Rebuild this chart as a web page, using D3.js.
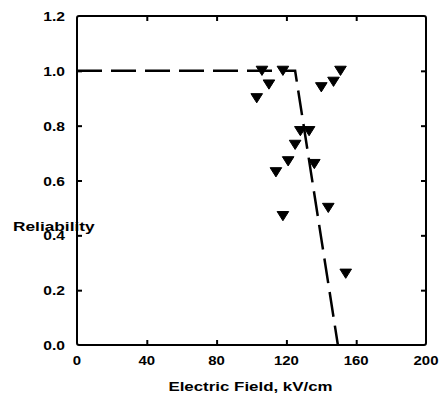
<!DOCTYPE html>
<html>
<head>
<meta charset="utf-8">
<script src="https://cdn.jsdelivr.net/npm/d3@7"></script>
<style>
  html, body { margin: 0; padding: 0; background: #fff; }
  text { font-family: "Liberation Sans", Arial, sans-serif; font-weight: bold; fill: #000; }
</style>
</head>
<body>
<div id="chart"></div>
<script>
// measured points
const fieldKV     = [103, 106, 110, 118, 118, 114, 121, 125, 128, 133, 136, 140, 144, 147, 151, 154];
const reliability = [0.90, 1.0, 0.95, 1.0, 0.47, 0.63, 0.67, 0.73, 0.78, 0.78, 0.66, 0.94, 0.50, 0.96, 1.0, 0.26];

// dashed fit line
const fitField = [0, 125, 149.5];
const fitRel   = [1.0, 1.0, 0.0];

const xTicks = [0, 40, 80, 120, 160, 200];
const yTicks = [0, 0.2, 0.4, 0.6, 0.8, 1.0, 1.2];

const W = 439, H = 397;
const margin = { left: 77, top: 16, right: 13, bottom: 52 };
const iw = W - margin.left - margin.right;
const ih = H - margin.top - margin.bottom;
const sx = 1.15; // labels look horizontally stretched

const svg = d3.select("#chart").append("svg")
    .attr("width", W)
    .attr("height", H);

const g = svg.append("g")
    .attr("transform", `translate(${margin.left},${margin.top})`);

const x = d3.scaleLinear().domain([0, 200]).range([0, iw]);
const y = d3.scaleLinear().domain([0, 1.2]).range([ih, 0]);

const inner = [40, 80, 120, 160];
const innerY = [0.2, 0.4, 0.6, 0.8, 1.0];

function styleAxis(sel){
    sel.select(".domain").remove();
    sel.selectAll("line").attr("stroke", "#000").attr("stroke-width", 2);
}

g.append("g").attr("transform", `translate(0,${ih})`)
    .call(d3.axisBottom(x).tickValues(inner).tickSize(-5).tickFormat(""))
    .call(styleAxis);
g.append("g")
    .call(d3.axisTop(x).tickValues(inner).tickSize(-5).tickFormat(""))
    .call(styleAxis);
g.append("g")
    .call(d3.axisLeft(y).tickValues(innerY).tickSize(-5).tickFormat(""))
    .call(styleAxis);
g.append("g").attr("transform", `translate(${iw},0)`)
    .call(d3.axisRight(y).tickValues(innerY).tickSize(-5).tickFormat(""))
    .call(styleAxis);

// frame
g.append("rect")
    .attr("x", 0).attr("y", 0)
    .attr("width", iw).attr("height", ih)
    .attr("rx", 2)
    .attr("fill", "none")
    .attr("stroke", "#000")
    .attr("stroke-width", 2);

// tick labels
g.selectAll(".xl").data(xTicks).enter().append("text")
    .attr("transform", d => `translate(${x(d)},${ih + 20}) scale(${sx},1)`)
    .attr("text-anchor", "middle")
    .style("font-size", "13px")
    .text(d => d);

g.selectAll(".yl").data(yTicks).enter().append("text")
    .attr("transform", d => `translate(-12,${y(d) + 5}) scale(1.2,1)`)
    .attr("text-anchor", "end")
    .style("font-size", "13px")
    .text(d => d.toFixed(1));

// axis titles
svg.append("text")
    .attr("transform", `translate(${margin.left + iw / 2 - 1},${H - 6}) scale(1.3,1)`)
    .attr("text-anchor", "middle")
    .style("font-size", "13px")
    .text("Electric Field, kV/cm");

svg.append("text")
    .attr("transform", `translate(13,${margin.top + y(0.43) + 4}) scale(1.33,1)`)
    .attr("text-anchor", "start")
    .style("font-size", "13px")
    .text("Reliability");

// fit line
const fit = fitField.map((f, i) => ({ f: f, r: fitRel[i] }));
g.append("path")
    .datum(fit)
    .attr("fill", "none")
    .attr("stroke", "#000")
    .attr("stroke-width", 2.5)
    .attr("stroke-dasharray", "25,9")
    .attr("d", d3.line().x(d => x(d.f)).y(d => y(d.r)));

// down triangles
const downTri = {
    draw(ctx, size){
        const w = 5.8, h = 4.6;
        ctx.moveTo(-w, -h);
        ctx.lineTo(w, -h);
        ctx.lineTo(0, h);
        ctx.closePath();
    }
};

const pts = fieldKV.map((f, i) => ({ f: f, r: reliability[i] }));
g.selectAll(".pt").data(pts).enter().append("path")
    .attr("transform", d => `translate(${x(d.f)},${y(d.r)})`)
    .attr("d", d3.symbol().type(downTri))
    .attr("fill", "#000")
    .attr("stroke", "#000")
    .attr("stroke-width", 1)
    .attr("stroke-linejoin", "round");
</script>
</body>
</html>
